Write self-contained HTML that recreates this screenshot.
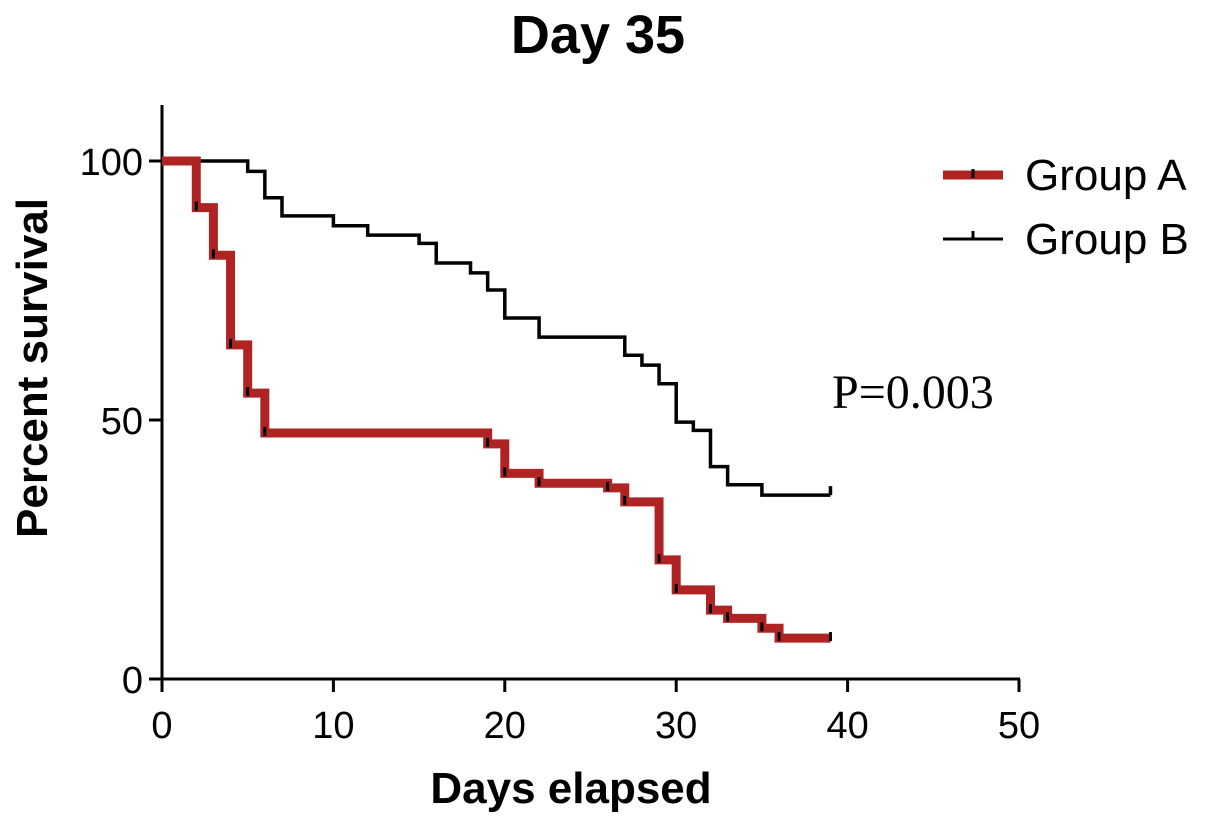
<!DOCTYPE html>
<html><head><meta charset="utf-8"><style>
body{margin:0;background:#fff}
svg{display:block;font-family:"Liberation Sans",sans-serif}
</style></head><body>
<svg id="chart" width="1205" height="824">
<text x="598" y="53" text-anchor="middle" font-size="54" font-weight="bold">Day 35</text>
<g id="axes"></g>
<g id="series"></g>
<text x="571" y="803" text-anchor="middle" font-size="44" font-weight="bold">Days elapsed</text>
<text transform="translate(47,368) rotate(-90)" text-anchor="middle" font-size="44" font-weight="bold">Percent survival</text>
<text x="832" y="408" font-family="Liberation Serif,serif" font-size="48">P=0.003</text>
<g>
<g>
<line x1="943" y1="175" x2="1003" y2="175" stroke="#b02323" stroke-width="9"/>
<line x1="973" y1="169" x2="973" y2="178" stroke="#000" stroke-width="3"/>
<text x="1025" y="190" font-size="44">Group A</text></g>
<g>
<line x1="943" y1="239" x2="1003" y2="239" stroke="#000" stroke-width="3"/>
<line x1="973" y1="231" x2="973" y2="239" stroke="#000" stroke-width="3"/>
<text x="1025" y="254" font-size="44">Group B</text></g>
</g>
</svg>
<script>
const xTicks=[0,10,20,30,40,50];
const yTicks=[0,50,100];
const daysA=[0,2,3,4,5,6,19,20,22,26,27,29,30,32,33,35,36,39];
const survA=[100,91,81.8,64.5,55.2,47.5,45.4,39.7,37.8,36.9,34.2,23,17.2,13.3,11.7,9.8,7.9,7.9];
const daysB=[0,5,6,7,10,12,15,16,18,19,20,22,27,28,29,30,31,32,33,35,39];
const survB=[100,98,92.9,89.4,87.5,85.7,84.1,80.3,78.4,75.1,69.7,66,62.5,60.6,57,49.6,48,41,37.5,35.5,35.5];
const X=d=>162+d*17.14, Y=v=>679-v*5.18;
const NS="http://www.w3.org/2000/svg";
function mk(t,a,p){const e=document.createElementNS(NS,t);for(const k in a)e.setAttribute(k,a[k]);p.appendChild(e);return e;}
const ax=document.getElementById('axes');
const ya=mk('line',{x1:162,y1:105,x2:162,y2:681,stroke:'#000','stroke-width':3},ax);


const xa=mk('line',{x1:160,y1:679,x2:1020,y2:679,stroke:'#000','stroke-width':3},ax);


xTicks.forEach(t=>{
 mk('line',{x1:X(t),y1:679,x2:X(t),y2:692,stroke:'#000','stroke-width':3},ax);
 const tx=mk('text',{x:X(t),y:738,'text-anchor':'middle','font-size':38},ax);tx.textContent=t;
 
 
});
yTicks.forEach(t=>{
 mk('line',{x1:149,y1:Y(t),x2:162,y2:Y(t),stroke:'#000','stroke-width':3},ax);
 const tx=mk('text',{x:143,y:Y(t)+14,'text-anchor':'end','font-size':38},ax);tx.textContent=t;
 
 
});
function path(ds,vs){let d=`M${X(ds[0])},${Y(vs[0])}`;for(let i=1;i<ds.length;i++){d+=` H${X(ds[i])} V${Y(vs[i])}`;}return d;}
const sg=document.getElementById('series');
const pb=mk('path',{d:path(daysB,survB),fill:'none',stroke:'#000','stroke-width':3.5},sg);


const tb=mk('line',{x1:X(39),y1:Y(survB[survB.length-1]),x2:X(39),y2:Y(survB[survB.length-1])-9,stroke:'#000','stroke-width':3.5},sg);


const pa=mk('path',{d:path(daysA,survA),fill:'none',stroke:'#b02323','stroke-width':9},sg);


for(let i=1;i<daysA.length;i++){
 const y=Y(survA[i]);
 const c=mk('line',{x1:X(daysA[i]),y1:y-6,x2:X(daysA[i]),y2:y+3,stroke:'#000','stroke-width':3},sg);
 
 
}
</script>
</body></html>
